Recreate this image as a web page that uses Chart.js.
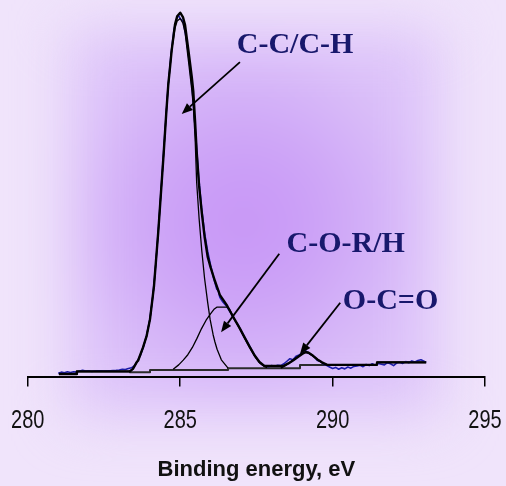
<!DOCTYPE html>
<html>
<head>
<meta charset="utf-8">
<script src="https://cdn.jsdelivr.net/npm/chart.js@4.4.1/dist/chart.umd.min.js"></script>
<style>
  html, body { margin: 0; padding: 0; width: 506px; height: 486px; overflow: hidden; background: #f0e4fb; }
  #glow {
    position: absolute; left: 70px; top: 30px; width: 370px; height: 385px;
    background: radial-gradient(ellipse farthest-side at 47% 50%, #c794f6 0%, #cca2f7 40%, #d6b6f8 75%, #ddc4f9 100%);
    filter: blur(28px);
  }
  #wrap { position: absolute; left: 0; top: 0; width: 506px; height: 486px; }
</style>
</head>
<body>
<div id="glow"></div>
<div id="wrap"><canvas id="c1s" width="506" height="486"></canvas></div>
<script>
// C 1s spectrum: binding energy (eV) vs. intensity (arbitrary units)

// measured spectrum
const measured = [
  [281.00,0.9],[281.10,1.2],[281.20,1.0],[281.30,1.3],[281.40,1.1],[281.50,1.3],[281.60,1.2],
  [281.70,1.5],[281.80,1.7],[281.90,1.5],[282.00,1.6],[282.10,1.4],[282.20,1.5],[282.30,1.6],
  [282.50,1.5],[282.70,1.6],[282.90,1.7],[283.00,1.8],[283.10,2.0],[283.20,1.9],[283.30,2.2],
  [283.40,2.4],[283.50,3.0],[283.60,4.3],[283.70,5.9],[283.80,8.3],[283.90,11.5],[284.00,15.6],
  [284.10,22.0],[284.20,31.0],[284.30,42.5],[284.40,54.8],[284.50,67.5],[284.60,79.5],
  [284.70,88.8],[284.80,95.8],[284.90,98.9],[284.95,99.4],[285.00,98.6],[285.05,98.2],
  [285.10,97.6],[285.20,93.0],[285.30,86.5],[285.40,78.5],[285.50,67.5],[285.60,55.5],
  [285.70,46.5],[285.80,39.5],[285.90,34.5],[286.00,30.5],[286.10,27.0],[286.20,24.0],
  [286.25,23.8],[286.30,21.8],[286.40,20.5],[286.50,19.6],[286.60,18.3],[286.70,16.9],
  [286.80,15.4],[286.90,14.2],[287.00,12.6],[287.10,11.0],[287.20,9.6],[287.30,8.0],
  [287.40,6.4],[287.50,5.1],[287.60,4.0],[287.70,3.2],[287.80,2.9],[287.90,2.7],[288.00,3.0],
  [288.10,2.8],[288.20,3.1],[288.30,3.0],[288.40,3.5],[288.50,4.2],[288.60,4.9],[288.70,4.6],
  [288.80,5.6],[288.90,5.9],[289.00,6.6],[289.10,7.2],[289.20,6.5],[289.30,6.0],[289.40,5.4],
  [289.50,4.4],[289.60,4.2],[289.70,3.4],[289.80,3.1],[289.90,2.6],[290.00,2.2],[290.10,2.5],
  [290.20,2.0],[290.30,2.4],[290.40,2.1],[290.50,2.6],[290.60,2.3],[290.70,2.8],[290.80,2.9],
  [290.90,3.1],[291.00,2.7],[291.10,3.3],[291.20,3.0],[291.30,3.5],[291.40,3.1],[291.50,3.6],
  [291.60,3.4],[291.70,3.2],[291.80,3.8],[291.90,3.5],[292.00,3.0],[292.10,3.7],[292.20,3.9],
  [292.30,3.6],[292.40,4.1],[292.50,3.8],[292.60,4.3],[292.70,4.0],[292.80,4.4],[292.90,4.6],
  [293.00,4.2],[293.07,3.9]
];

// fitted envelope
const envelope = [
  [281.02,0.7],[281.60,0.7],[281.61,1.4],[283.35,1.45],[283.45,2.1],[283.57,3.9],[283.62,4.4],
  [283.78,8.0],[283.90,11.2],[284.01,15.8],[284.14,24.9],[284.28,39.8],[284.45,60.5],
  [284.55,73.5],[284.61,80.5],[284.67,85.5],[284.72,89.8],[284.83,97.0],[284.90,99.2],
  [285.00,100.2],[285.09,99.0],[285.16,96.8],[285.27,89.8],[285.38,82.5],[285.43,78.5],
  [285.49,70.0],[285.54,62.0],[285.62,52.5],[285.71,45.0],[285.80,38.5],[285.90,33.0],
  [286.00,30.0],[286.14,26.3],[286.30,22.5],[286.54,19.5],[286.70,17.0],[286.96,13.2],
  [287.13,10.5],[287.29,8.0],[287.45,5.7],[287.60,4.0],[287.75,3.0],[287.85,2.9],[288.38,2.9],
  [288.55,3.6],[288.70,4.4],[288.85,5.3],[289.00,6.2],[289.10,6.7],[289.20,6.6],[289.36,5.7],
  [289.50,4.7],[289.65,3.9],[289.82,3.2],[291.45,3.25],[291.46,3.9],[293.07,3.9]
];

// C-C / C-H component
const peakCC = [
  [283.35,1.3],[283.45,2.1],[283.57,3.9],[283.62,4.4],[283.78,8.0],[283.90,11.2],[284.01,15.8],
  [284.14,24.9],[284.28,39.8],[284.45,60.5],[284.55,73.5],[284.61,80.5],[284.67,85.5],
  [284.72,89.8],[284.83,96.0],[284.90,97.9],[285.00,98.6],[285.09,97.3],[285.16,94.8],
  [285.27,87.0],[285.38,79.0],[285.43,74.5],[285.49,65.5],[285.54,53.5],[285.62,43.5],
  [285.71,34.5],[285.80,27.0],[285.90,20.5],[285.98,15.8],[286.08,11.5],[286.14,9.5],
  [286.21,7.5],[286.35,4.6],[286.57,2.3]
];

// C-O-R/H component
const peakCO = [
  [284.77,2.0],[284.95,3.2],[285.10,4.5],[285.25,6.0],[285.40,8.0],[285.55,10.5],[285.70,13.2],
  [285.85,15.5],[286.00,17.3],[286.12,18.6],[286.20,19.1],[286.55,19.1],[286.62,18.5],
  [286.80,15.5],[286.96,13.0],[287.13,10.3],[287.29,7.8],[287.45,5.5],[287.60,3.8],
  [287.75,2.8],[287.85,2.4]
];

// O-C=O component
const peakOCO = [
  [288.30,2.3],[288.45,3.0],[288.60,3.9],[288.75,4.8],[288.90,5.7],[289.05,6.5],[289.12,6.7],
  [289.25,6.3],[289.40,5.4],[289.55,4.4],[289.70,3.6],[289.85,3.2]
];

// stepped background
const background = [
  [281.02,0.7],[281.61,1.35],[283.35,1.15],[284.01,1.8],[286.57,2.3],[288.93,3.2],
  [291.46,3.9],[293.07,3.9]
];

// axis
const xTicks = [280, 285, 290, 295];
const xTitle = 'Binding energy, eV';

// peak labels and their arrows (data coordinates)
const peakLabels = [
  { text: 'C-C/C-H', x: 288.77, y: 91.3 },
  { text: 'C-O-R/H', x: 290.43, y: 36.5 },
  { text: 'O-C=O',   x: 291.90, y: 20.8 }
];
const peakArrows = [
  { from: [286.96, 86.6], to: [285.05, 72.3] },
  { from: [288.25, 33.8], to: [286.34, 12.2] },
  { from: [290.25, 20.3], to: [288.93, 6.2] }
];

const toXY = arr => arr.map(([x, y]) => ({ x, y }));

// linear axis whose tick labels are set in a narrow (horizontally condensed) face
class NarrowLinearScale extends Chart.LinearScale {
  drawLabels(chartArea) {
    const ctx = this.ctx;
    const squeeze = 0.8;
    const items = this.getLabelItems(chartArea);
    for (const item of items) {
      const opts = item.options;
      ctx.save();
      ctx.translate(opts.translation[0], opts.translation[1]);
      ctx.scale(squeeze, 1);
      ctx.font = item.font.string;
      ctx.fillStyle = opts.color;
      ctx.textAlign = opts.textAlign;
      ctx.textBaseline = opts.textBaseline;
      ctx.fillText(item.label, 0, item.textOffset);
      ctx.restore();
    }
  }
}
NarrowLinearScale.id = 'narrowLinear';
NarrowLinearScale.defaults = Chart.LinearScale.defaults;
Chart.register(NarrowLinearScale);

const peakNotes = {
  id: 'peakNotes',
  afterDatasetsDraw(chart) {
    const { ctx, scales: { x, y } } = chart;
    ctx.save();
    ctx.strokeStyle = '#000';
    ctx.fillStyle = '#000';
    ctx.lineWidth = 1.8;
    peakArrows.forEach(a => {
      const x0 = x.getPixelForValue(a.from[0]), y0 = y.getPixelForValue(a.from[1]);
      const x1 = x.getPixelForValue(a.to[0]),   y1 = y.getPixelForValue(a.to[1]);
      const ang = Math.atan2(y1 - y0, x1 - x0);
      const head = 11, half = 4.5;
      const bx = x1 - head * Math.cos(ang), by = y1 - head * Math.sin(ang);
      ctx.beginPath();
      ctx.moveTo(x0, y0);
      ctx.lineTo(bx, by);
      ctx.stroke();
      ctx.beginPath();
      ctx.moveTo(x1, y1);
      ctx.lineTo(bx + half * Math.sin(ang), by - half * Math.cos(ang));
      ctx.lineTo(bx - half * Math.sin(ang), by + half * Math.cos(ang));
      ctx.closePath();
      ctx.fill();
    });
    ctx.font = "bold 30px 'Liberation Serif', 'Times New Roman', serif";
    ctx.fillStyle = '#18186c';
    ctx.textAlign = 'center';
    ctx.textBaseline = 'middle';
    peakLabels.forEach(l => {
      ctx.fillText(l.text, x.getPixelForValue(l.x), y.getPixelForValue(l.y));
    });
    ctx.restore();
  }
};

const lineBase = { pointRadius: 0, tension: 0, fill: false, borderJoinStyle: 'round' };

new Chart(document.getElementById('c1s'), {
  type: 'line',
  data: {
    datasets: [
      { ...lineBase, label: 'Envelope', data: toXY(envelope), borderColor: '#000', borderWidth: 2.4, order: 0 },
      { ...lineBase, label: 'C-C/C-H', data: toXY(peakCC), borderColor: '#000', borderWidth: 1.3, order: 1 },
      { ...lineBase, label: 'C-O-R/H', data: toXY(peakCO), borderColor: '#000', borderWidth: 1.3, order: 2 },
      { ...lineBase, label: 'O-C=O', data: toXY(peakOCO), borderColor: '#000', borderWidth: 1.5, order: 3 },
      { ...lineBase, label: 'Measured', data: toXY(measured), borderColor: '#1c1ca8', borderWidth: 1.6, order: 4 },
      { ...lineBase, label: 'Background', data: toXY(background), borderColor: '#2b2b2b', borderWidth: 2, stepped: true, order: 5 }
    ]
  },
  options: {
    responsive: false,
    animation: false,
    events: [],
    layout: { padding: { left: 27.8, right: 21, top: 0, bottom: 0 } },
    plugins: { legend: { display: false }, tooltip: { enabled: false } },
    scales: {
      x: {
        type: 'narrowLinear', min: 280, max: 295,
        border: { display: true, color: '#000', width: 2 },
        grid: { drawOnChartArea: false, drawTicks: true, tickLength: 10, color: '#000', lineWidth: 1.5 },
        afterBuildTicks: s => { s.ticks = xTicks.map(v => ({ value: v })); },
        afterFit: s => { s.paddingLeft = 0; s.paddingRight = 0; },
        ticks: {
          padding: 19.5, color: '#111', maxRotation: 0, autoSkip: false,
          font: { family: "'Liberation Sans', Arial, sans-serif", size: 25 }
        },
        title: {
          display: true, text: xTitle, color: '#111',
          font: { family: "'Liberation Sans', Arial, sans-serif", size: 22, weight: 'bold' },
          padding: { top: 1.1, bottom: 3 }
        }
      },
      y: { display: false, min: 0, max: 103.7 }
    }
  },
  plugins: [peakNotes]
});
</script>
</body>
</html>
